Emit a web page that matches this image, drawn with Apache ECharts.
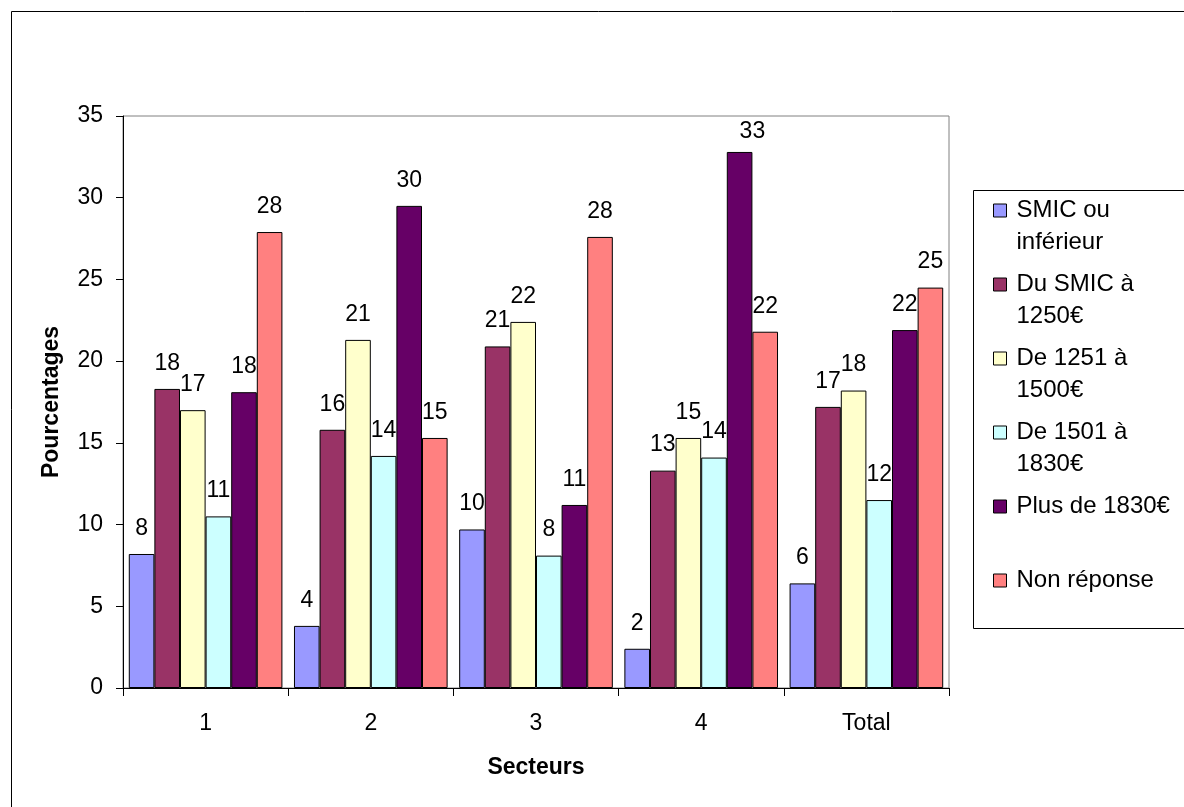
<!DOCTYPE html>
<html>
<head>
<meta charset="utf-8">
<script src="https://cdn.jsdelivr.net/npm/echarts@6/dist/echarts.min.js"></script>
<style>
html,body{margin:0;padding:0;background:#fff;}
#c{width:1184px;height:807px;}
</style>
</head>
<body>
<div id="c"></div>
<script>
const categories = ['1', '2', '3', '4', 'Total'];
const seriesNames = ['SMIC ou inférieur', 'Du SMIC à 1250€', 'De 1251 à 1500€', 'De 1501 à 1830€', 'Plus de 1830€', 'Non réponse'];
const legendLabels = ['SMIC ou\ninférieur', 'Du SMIC à\n1250€', 'De 1251 à\n1500€', 'De 1501 à\n1830€', 'Plus de 1830€\n ', 'Non réponse\n '];
const smic = [8.2, 3.8, 9.7, 2.4, 6.4];
const duSmic = [18.3, 15.8, 20.9, 13.3, 17.2];
const de1251 = [17.0, 21.3, 22.4, 15.3, 18.2];
const de1501 = [10.5, 14.2, 8.1, 14.1, 11.5];
const plus1830 = [18.1, 29.5, 11.2, 32.8, 21.9];
const nonReponse = [27.9, 15.3, 27.6, 21.8, 24.5];
const yTicks = [0, 5, 10, 15, 20, 25, 30, 35];

const seriesData = [smic, duSmic, de1251, de1501, plus1830, nonReponse];
const colors = ['#9999FF', '#993366', '#FFFFCC', '#CCFFFF', '#660066', '#FF8080'];
const FONT = "Arial, 'Liberation Sans', sans-serif";
// legend icon: a square aligned with the first text line, inside an 18x64 box
const LEGEND_ICON = 'path://M0,0L0,0M18,64L18,64M0,9.5L13,9.5L13,22.5L0,22.5Z';

const chart = echarts.init(document.getElementById('c'), null, {renderer: 'canvas'});
chart.setOption({
  backgroundColor: '#fff',
  animation: false,
  textStyle: {fontFamily: FONT},
  graphic: [
    {type: 'rect', silent: true, shape: {x: 11.5, y: 11.5, width: 1400, height: 1000},
     style: {fill: 'none', stroke: '#000', lineWidth: 1}},
    {type: 'rect', silent: true, shape: {x: 973.5, y: 190.5, width: 400, height: 438},
     style: {fill: 'none', stroke: '#000', lineWidth: 1}}
  ],
  grid: {left: 123, right: 235, top: 116, bottom: 119, show: true,
         borderColor: '#808080', borderWidth: 1, backgroundColor: 'transparent'},
  legend: {
    orient: 'vertical', left: 993, top: 194, padding: 0,
    itemGap: 9, itemWidth: 18, itemHeight: 64,
    icon: LEGEND_ICON,
    itemStyle: {borderColor: '#000', borderWidth: 1},
    data: seriesNames,
    formatter: function (name) { return legendLabels[seriesNames.indexOf(name)]; },
    textStyle: {fontFamily: FONT, fontSize: 24, color: '#000', lineHeight: 32}
  },
  xAxis: {
    type: 'category', data: categories,
    name: 'Secteurs', nameLocation: 'middle', nameGap: 68,
    nameTextStyle: {fontFamily: FONT, fontSize: 23, fontWeight: 'bold', color: '#000'},
    axisLine: {show: true, lineStyle: {color: '#000', width: 1}},
    axisTick: {show: true, length: 8, alignWithLabel: false, lineStyle: {color: '#000'}},
    axisLabel: {fontFamily: FONT, fontSize: 23, color: '#000', margin: 24},
    splitLine: {show: false}
  },
  yAxis: {
    type: 'value', min: 0, max: 35, interval: 5,
    name: 'Pourcentages', nameLocation: 'middle', nameGap: 60, nameRotate: 90,
    nameTextStyle: {fontFamily: FONT, fontSize: 23, fontWeight: 'bold', color: '#000'},
    axisLine: {show: true, lineStyle: {color: '#000', width: 1}},
    axisTick: {show: true, length: 7, lineStyle: {color: '#000'}},
    axisLabel: {fontFamily: FONT, fontSize: 23, color: '#000', margin: 20,
      formatter: function (v) { return yTicks.indexOf(v) >= 0 ? String(v) : ''; }},
    splitLine: {show: false}
  },
  series: seriesNames.map(function (n, i) {
    return {
      name: n, type: 'bar', data: seriesData[i],
      barGap: '0%', barCategoryGap: '7%',
      itemStyle: {color: colors[i], borderColor: '#000', borderWidth: 1},
      label: {show: true, position: 'top', distance: 14, fontFamily: FONT, fontSize: 23, color: '#000',
        formatter: function (p) { return String(Math.round(p.value)); }},
      labelLayout: function (p) {
        if (p.labelRect.y < 119) { return {y: 120}; }
        return {};
      }
    };
  })
});
</script>
</body>
</html>
